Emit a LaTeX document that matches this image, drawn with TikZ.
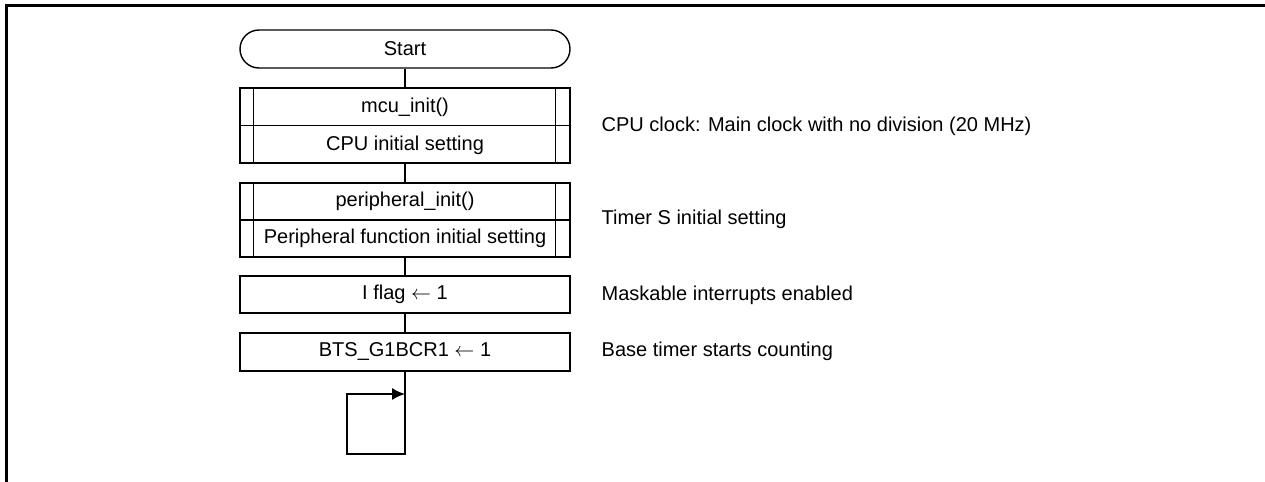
\documentclass[tikz,border=0pt]{standalone}
\usepackage{fontspec}
\setmainfont{Liberation Sans}
\usetikzlibrary{positioning,arrows.meta}

\newlength{\du}
\setlength{\du}{0.5pt}

\tikzset{
  termbox/.style={draw, rounded corners=19\du, minimum width=330\du, minimum height=38\du, inner sep=0pt},
  procbox/.style={draw, minimum width=330\du, inner sep=0pt},
  boxtext/.style={inner sep=0pt},
  notetext/.style={anchor=west, inner sep=0pt},
}

\begin{document}
\begin{tikzpicture}
\pgftransformxscale{1.000000}
\pgftransformyscale{-1.000000}
\definecolor{dialinecolor}{rgb}{0.000000, 0.000000, 0.000000}
\pgfsetstrokecolor{dialinecolor}
\pgfsetfillcolor{dialinecolor}
\useasboundingbox (0\du,0\du) rectangle (1265\du,482\du);
\fontsize{10pt}{12pt}\selectfont
% outer frame
{
\pgfsetlinewidth{1.250000pt}
\draw (6.5\du,482\du)--(6.5\du,5.5\du)--(1265\du,5.5\du);
}
\pgfsetlinewidth{0.700000pt}
% boxes
\node[termbox] (start) at (405\du,49\du) {Start};
\node[procbox, minimum height=75\du] (mcuinit) at (405\du,125.5\du) {};
\node[procbox, minimum height=74\du] (perinit) at (405\du,220\du) {};
\node[procbox, minimum height=37\du] (iflag) at (405\du,294.5\du) {I flag $\leftarrow$ 1};
\node[procbox, minimum height=38\du] (bts) at (405\du,352\du) {BTS\_G1BCR1 $\leftarrow$ 1};
% subroutine bars
{
\draw ([xshift=14\du]mcuinit.north west)--([xshift=14\du]mcuinit.south west);
\draw ([xshift=-15\du]mcuinit.north east)--([xshift=-15\du]mcuinit.south east);
\draw (mcuinit.west)--(mcuinit.east);
\draw ([xshift=14\du]perinit.north west)--([xshift=14\du]perinit.south west);
\draw ([xshift=-15\du]perinit.north east)--([xshift=-15\du]perinit.south east);
\draw (perinit.west)--(perinit.east);
}
\node[boxtext] (mcuname) at (405\du,107\du) {mcu\_init()};
\node[boxtext] (mcudesc) at (405\du,145\du) {CPU initial setting};
\node[boxtext] (pername) at (405\du,201.5\du) {peripheral\_init()};
\node[boxtext] (perdesc) at (405\du,238.5\du) {Peripheral function initial setting};
% flow lines
\draw (start.south)--(mcuinit.north);
\draw (mcuinit.south)--(perinit.north);
\draw (perinit.south)--(iflag.north);
\draw (iflag.south)--(bts.north);
\coordinate (loopa) at (405\du,454\du);
\coordinate (loopb) at (347\du,454\du);
\coordinate (loopc) at (347\du,394\du);
\coordinate (loopd) at (405\du,394\du);
\draw[-{Latex[length=6.5pt,width=6pt]}] (bts.south)--(loopa)--(loopb)--(loopc)--(loopd);
% notes
\node[notetext] (mcunote) at (601\du,126\du) {CPU clock: Main clock with no division (20 MHz)};
\node[notetext] (pernote) at (601\du,219\du) {Timer S initial setting};
\node[notetext] (iflagnote) at (601\du,295.5\du) {Maskable interrupts enabled};
\node[notetext] (btsnote) at (601\du,351\du) {Base timer starts counting};
\end{tikzpicture}
\end{document}
